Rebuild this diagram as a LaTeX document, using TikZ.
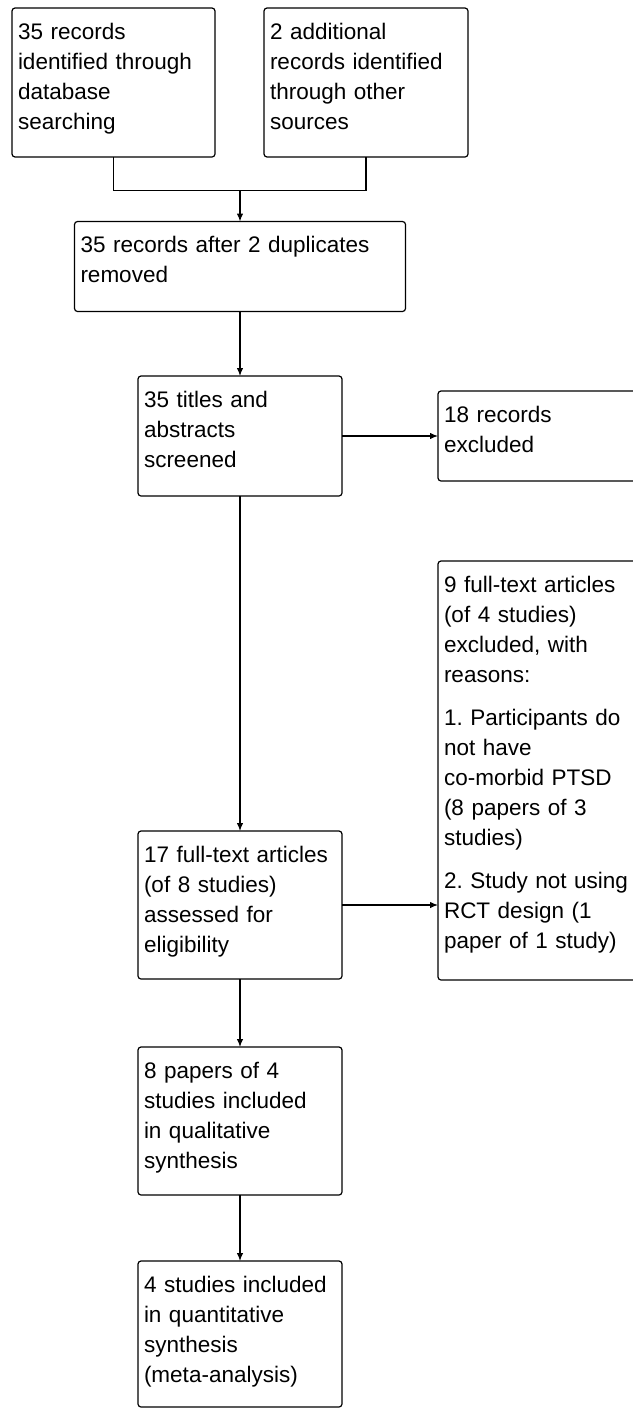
\documentclass[tikz,border=0pt]{standalone}
\usepackage{fontspec}
\setmainfont{Liberation Sans}
\usepackage{tikz}
\usetikzlibrary{arrows.meta,calc}
\tikzset{
  flowbox/.style={draw,line width=1.2pt,rounded corners=3pt,anchor=north west,
    inner xsep=6pt,inner ysep=0pt,outer sep=0pt,align=left,text height=31pt,
    font=\fontsize{22.5}{30}\selectfont\frenchspacing},
  flowline/.style={line width=1.2pt},
  flowarrow/.style={line width=1.2pt,-{Latex[length=8pt,width=6.5pt]}}
}

\begin{document}
\begin{tikzpicture}[x=1pt,y=-1pt]
%\draw[help lines,step=50] (0,0) grid (632,1408);
\useasboundingbox (0,0) rectangle (632,1408);

\node[flowbox,text width=191pt,text depth=118pt] (ident) at (12,8)
  {35 records\\identified through\\database\\searching};
\node[flowbox,text width=192pt,text depth=118pt] (other) at (264,8)
  {2 additional\\records identified\\through other\\sources};
\node[flowbox,text width=319pt,text depth=59pt] (dupl) at (74.5,221.5)
  {35 records after 2 duplicates\\removed};
\node[flowbox,text width=192pt,text depth=89pt] (screen) at (138,376)
  {35 titles and\\abstracts\\screened};
\node[flowbox,text width=192pt,text depth=59pt] (excl) at (438,391)
  {18 records\\excluded};
\node[flowbox,text width=192pt,text depth=388pt] (reasons) at (438,561)
  {9 full-text articles\\(of 4 studies)\\excluded, with\\reasons:\\[13pt]%
   1. Participants do\\not have\\co-morbid PTSD\\(8 papers of 3\\studies)\\[13pt]%
   2. Study not using\\RCT design (1\\paper of 1 study)};
\node[flowbox,text width=192pt,text depth=117pt] (elig) at (138,831)
  {17 full-text articles\\(of 8 studies)\\assessed for\\eligibility};
\node[flowbox,text width=192pt,text depth=117pt] (qual) at (138,1047)
  {8 papers of 4\\studies included\\in qualitative\\synthesis};
\node[flowbox,text width=192pt,text depth=115pt] (quant) at (138,1261)
  {4 studies included\\in quantitative\\synthesis\\(meta-analysis)};

\coordinate (merge) at (240,190.5);
\draw[flowline] (ident.south) |- (merge) -| (other.south);
\draw[flowarrow] (merge) -- (dupl.north);
\draw[flowarrow] (dupl) -- (screen);
\draw[flowarrow] (screen.east) -- (excl.west);
\draw[flowarrow] (screen) -- (elig);
\draw[flowarrow] (elig.east) -- (elig.east -| reasons.west);
\draw[flowarrow] (elig) -- (qual);
\draw[flowarrow] (qual) -- (quant);
\end{tikzpicture}
\end{document}
